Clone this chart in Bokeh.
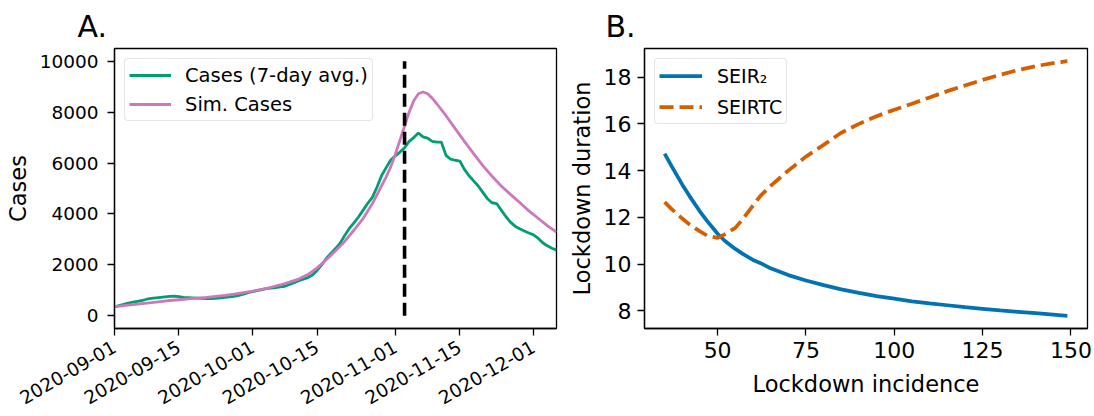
import math
import pandas as pd
from bokeh.plotting import figure
from bokeh.layouts import row
from bokeh.models import (Range1d, FixedTicker, DatetimeTickFormatter, Legend,
                          LegendItem)
from bokeh.embed import file_html
from bokeh.resources import INLINE

FONT = "DejaVu Sans"

# ---------------- Panel A data ----------------
start_date = "2020-09-01"
end_date = "2020-12-06"
cases_7day = [
    350, 400, 450, 500, 540, 570, 600, 650, 680, 700,
    720, 740, 760, 770, 750, 720, 710, 700, 690, 680,
    670, 675, 680, 700, 720, 740, 760, 800, 850, 910,
    950, 990, 1030, 1070, 1090, 1110, 1140, 1160, 1230, 1300,
    1380, 1440, 1500, 1600, 1780, 2000, 2250, 2450, 2640, 2850,
    3150, 3430, 3650, 3880, 4150, 4420, 4650, 5050, 5500, 5820,
    6120, 6280, 6430, 6600, 6850, 7000, 7180, 7030, 6980, 6850,
    6820, 6820, 6300, 6150, 6110, 6080, 5750, 5500, 5300, 5100,
    4850, 4600, 4440, 4410, 4150, 3900, 3680, 3520, 3420, 3330,
    3250, 3180, 3050, 2870, 2750, 2650, 2580,
]
sim_day = [0, 2, 4, 6, 8, 10, 12, 14, 16, 18, 20, 22, 24, 26, 28, 30, 32, 34,
           36, 38, 40, 42, 44, 46, 48, 50, 52, 54, 56, 57, 58, 59, 60, 61, 62,
           63, 64, 65, 66, 67, 68, 69, 70, 72, 74, 76, 78, 80, 82, 84, 86, 88,
           90, 92, 94, 96]
sim_cases = [360, 400, 440, 480, 520, 560, 600, 630, 660, 690, 720, 760, 800,
             850, 910, 970, 1040, 1120, 1210, 1320, 1440, 1620, 1880, 2200,
             2550, 2920, 3360, 3820, 4400, 4750, 5100, 5450, 5850, 6350, 6900,
             7450, 8000, 8450, 8720, 8790, 8720, 8550, 8330, 7860, 7350, 6850,
             6370, 5900, 5480, 5100, 4770, 4450, 4120, 3830, 3540, 3290]
lockdown_date = "2020-11-03"
lockdown_y = [0, 10000]
date_ticks = ["2020-09-01", "2020-09-15", "2020-10-01", "2020-10-15",
              "2020-11-01", "2020-11-15", "2020-12-01"]
case_ticks = [0, 2000, 4000, 6000, 8000, 10000]

# ---------------- Panel B data ----------------
incidence = [35, 37, 40, 42, 45, 47, 50, 52, 55, 57, 60, 62, 65, 70, 75, 80,
             85, 90, 95, 100, 105, 110, 115, 120, 125, 130, 135, 140, 145, 149]
seir2 = [14.73, 14.18, 13.4, 12.92, 12.25, 11.85, 11.3, 11.0, 10.65, 10.45,
         10.18, 10.05, 9.82, 9.53, 9.3, 9.1, 8.92, 8.77, 8.63, 8.52, 8.41,
         8.32, 8.24, 8.16, 8.09, 8.02, 7.96, 7.9, 7.84, 7.79]
seirtc = [12.65, 12.35, 11.95, 11.7, 11.4, 11.22, 11.12, 11.27, 11.55, 11.9,
          12.5, 12.9, 13.35, 14.0, 14.6, 15.1, 15.62, 16.0, 16.33, 16.6,
          16.86, 17.13, 17.4, 17.64, 17.88, 18.1, 18.3, 18.47, 18.6, 18.68]
inc_ticks = [50, 75, 100, 125, 150]
dur_ticks = [8, 10, 12, 14, 16, 18]

GREEN = "#029e73"
PINK = "#cc78bc"
BLUE = "#0173b2"
ORANGE = "#d55e00"


def style_axes(p, tick_size):
    p.outline_line_color = "black"
    p.outline_line_width = 1.3
    p.xgrid.visible = False
    p.ygrid.visible = False
    for ax in (p.xaxis[0], p.yaxis[0]):
        ax.axis_line_color = "black"
        ax.axis_line_width = 1.3
        ax.major_tick_line_color = "black"
        ax.major_tick_line_width = 1.3
        ax.major_tick_out = 7
        ax.major_tick_in = 0
        ax.minor_tick_out = 0
        ax.minor_tick_in = 0
        ax.major_label_text_font = FONT
        ax.major_label_text_font_size = tick_size
        ax.major_label_text_color = "black"
        ax.axis_label_text_font = FONT
        ax.axis_label_text_font_size = "22.5px"
        ax.axis_label_text_font_style = "normal"
        ax.axis_label_text_color = "black"


def panel_title(p, text, offset):
    p.title.text = text
    p.title.align = "left"
    p.title.offset = offset
    p.title.text_font = FONT
    p.title.text_font_size = "30px"
    p.title.text_font_style = "normal"
    p.title.text_color = "black"
    p.title.standoff = 10


# ---------------- Panel A ----------------
dates = pd.date_range(start_date, periods=len(cases_7day), freq="D")
sim_dates = pd.Timestamp(start_date) + pd.to_timedelta(sim_day, unit="D")

p1 = figure(width=562, height=416, x_axis_type="datetime",
            x_range=Range1d(pd.Timestamp(start_date), pd.Timestamp(end_date)),
            y_range=Range1d(-500, 10500),
            output_backend="svg", toolbar_location=None,
            min_border_left=114, min_border_right=6,
            min_border_top=47, min_border_bottom=88)
style_axes(p1, "18.5px")
panel_title(p1, "A.", -37)
p1.yaxis.axis_label = "Cases"
p1.yaxis.ticker = FixedTicker(ticks=case_ticks)
p1.yaxis.major_label_standoff = 9
p1.yaxis.axis_label_standoff = 6
p1.xaxis.ticker = FixedTicker(ticks=[pd.Timestamp(d).value / 1e6 for d in date_ticks])
fmt = "%Y-%m-%d"
p1.xaxis.formatter = DatetimeTickFormatter(days=fmt, months=fmt, years=fmt,
                                           hours=fmt, minutes=fmt, seconds=fmt,
                                           milliseconds=fmt, microseconds=fmt)
p1.xaxis.major_label_orientation = math.pi / 6
p1.xaxis.major_label_standoff = 10

r_cases = p1.line(dates, cases_7day, line_color=GREEN, line_width=2.8)
r_sim = p1.line(sim_dates, sim_cases, line_color=PINK, line_width=2.8)
ld = pd.Timestamp(lockdown_date)
p1.line([ld, ld], lockdown_y, line_color="black", line_width=3.6,
        line_dash="13 6")

leg1 = Legend(items=[LegendItem(label="Cases (7-day avg.)", renderers=[r_cases]),
                     LegendItem(label="Sim. Cases", renderers=[r_sim])],
              location="top_left", label_text_font=FONT,
              label_text_font_size="19.5px", label_text_color="black",
              glyph_width=42, glyph_height=24,
              label_height=24, label_standoff=14, spacing=5, padding=4,
              margin=10, border_line_color="#cccccc", border_line_width=1.2,
              border_radius=4, background_fill_alpha=0.8)
p1.add_layout(leg1)

# ---------------- Panel B ----------------
span = max(incidence) - min(incidence)
allv = seir2 + seirtc
vspan = max(allv) - min(allv)
p2 = figure(width=532, height=416,
            x_range=Range1d(min(incidence) - 0.05 * span, max(incidence) + 0.05 * span),
            y_range=Range1d(min(allv) - 0.05 * vspan, max(allv) + 0.05 * vspan),
            output_backend="svg", toolbar_location=None,
            min_border_left=82, min_border_right=7,
            min_border_top=48, min_border_bottom=88)
style_axes(p2, "22px")
panel_title(p2, "B.", -39)
p2.xaxis.axis_label = "Lockdown incidence"
p2.yaxis.axis_label = "Lockdown duration"
p2.xaxis.ticker = FixedTicker(ticks=inc_ticks)
p2.yaxis.ticker = FixedTicker(ticks=dur_ticks)
p2.yaxis.major_label_standoff = 6
p2.yaxis.axis_label_standoff = 6
p2.xaxis.major_label_standoff = 6
p2.xaxis.axis_label_standoff = 10

r_b = p2.line(incidence, seir2, line_color=BLUE, line_width=3.75)
r_o = p2.line(incidence, seirtc, line_color=ORANGE, line_width=3.75,
              line_dash="14 6")
leg2 = Legend(items=[LegendItem(label="SEIR\u2082", renderers=[r_b]),
                     LegendItem(label="SEIRTC", renderers=[r_o])],
              location="top_left", label_text_font=FONT,
              label_text_font_size="19px", label_text_color="black",
              glyph_width=43, glyph_height=25,
              label_height=25, label_standoff=15, spacing=6, padding=4,
              margin=10, border_line_color="#cccccc", border_line_width=1.2,
              border_radius=4, background_fill_alpha=0.8)
p2.add_layout(leg2)

layout = row(p1, p2)
open("out.html", "w").write(file_html(layout, INLINE))
